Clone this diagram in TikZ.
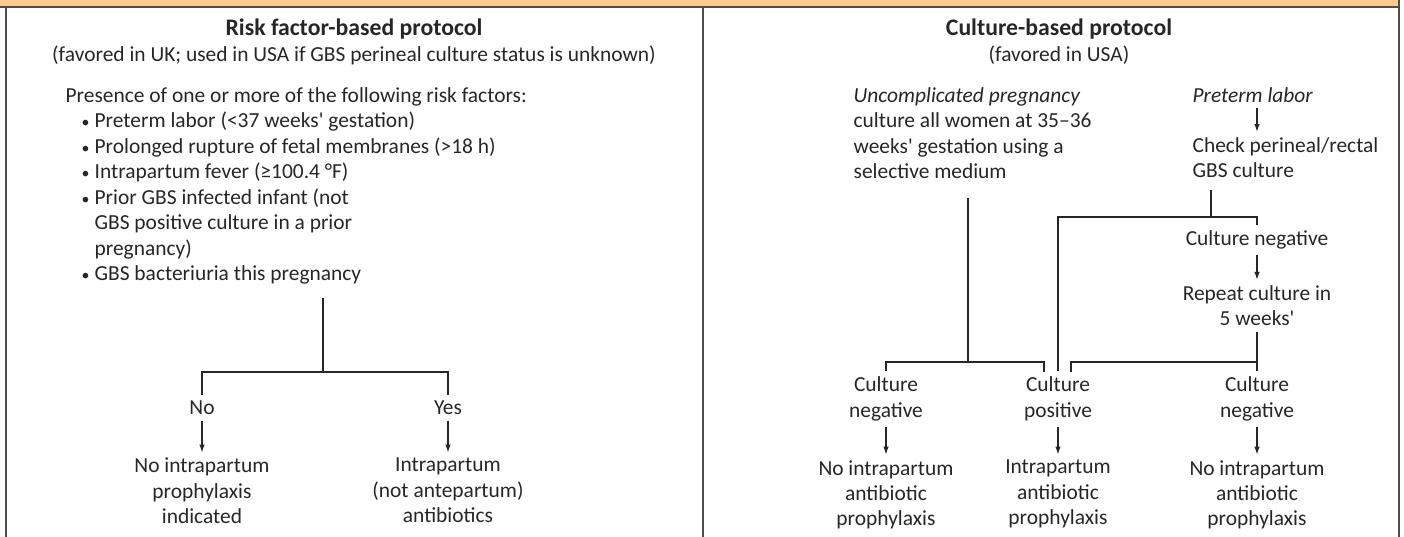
\documentclass[tikz,border=0pt]{standalone}
\usepackage{fontspec}
\setmainfont{Carlito}
\usepackage{tikz}
\usetikzlibrary{arrows.meta,positioning}
\definecolor{barorange}{HTML}{FFCA94}
\definecolor{framegray}{HTML}{4D4D4D}
\definecolor{inkgray}{HTML}{262626}

\newcommand{\riskitem}{\hspace*{3.2mm}\makebox[2.6mm][l]{\small\textbullet}}
\newcommand{\riskcont}{\hspace*{5.8mm}}
\newcommand{\apos}{\textquotesingle}

\begin{document}
\begin{tikzpicture}[
    x=0.02cm, y=-0.02cm,
    txt/.style={inner sep=3pt, text=inkgray, font=\fontsize{12.2}{14.5}\selectfont},
    heading/.style={txt, font=\fontsize{13.5}{15}\selectfont\bfseries},
    item/.style={txt, align=left, anchor=north west},
    branch/.style={txt, align=center},
    outcome/.style={txt, align=center},
    link/.style={draw=inkgray, line width=0.7pt},
    arrow/.style={link, -{Latex[length=1.6mm,width=1.1mm]}},
    frame/.style={draw=framegray, line width=1.1pt}
]
\useasboundingbox (0,0) rectangle (1404,537);

% Header bar and panel frames
\fill[barorange] (0,0) rectangle (1399,7);
\draw[frame] (0,7) -- (1399,7);
\draw[frame] (6,7) -- (6,537);
\draw[frame] (703,7) -- (703,537);
\draw[frame] (1399,0) -- (1399,537);

% Risk factor panel
\node[heading] (risktitle) at (354,29) {Risk factor-based protocol};
\node[txt] (risksub) at (354,55) {(favored in UK; used in USA if GBS perineal culture status is unknown)};
\node[item] (risks) at (60,82) {Presence of one or more of the following risk factors:\\
\riskitem Preterm labor (<37 weeks\apos{} gestation)\\
\riskitem Prolonged rupture of fetal membranes (>18 h)\\
\riskitem Intrapartum fever (≥100.4 °F)\\
\riskitem Prior GBS infected infant (not\\
\riskcont GBS positive culture in a prior\\
\riskcont pregnancy)\\
\riskitem GBS bacteriuria this pregnancy};

% Yes / no split
\coordinate (risktop) at (323,298);
\coordinate (risksplit) at (323,372);
\node[branch] (no) at (202,408) {No};
\node[branch] (yes) at (448,408) {Yes};
\node[outcome, below=0.64cm of no] (noout) {No intrapartum\\prophylaxis\\indicated};
\node[outcome, below=0.64cm of yes] (yesout) {Intrapartum\\(not antepartum)\\antibiotics};

\draw[link] (risktop) -- (risksplit);
\draw[link] (no) |- (risksplit) -| (yes);
\draw[arrow] (no) -- (noout);
\draw[arrow] (yes) -- (yesout);

% Culture panel
\node[heading] (culttitle) at (1059,29) {Culture-based protocol};
\node[txt] (cultsub) at (1059,55) {(favored in USA)};
\node[item] (uncomp) at (848,82) {\textit{Uncomplicated pregnancy}\\culture all women at 35–36\\weeks\apos{} gestation using a\\selective medium};
\node[item] (preterm) at (1187,82) {\textit{Preterm labor}};
\node[item] (check) at (1187,132) {Check perineal/rectal\\GBS culture};
\coordinate (rcol) at (1257,0);
\draw[arrow] (preterm.south -| rcol) -- (check.north -| rcol);

% Repeat culture
\coordinate (checktop) at (1211,190);
\coordinate (checksplit) at (1211,217);
\node[branch] (cneg) at (1257,240) {Culture negative};
\node[branch, below=0.5cm of cneg] (repeat) {Repeat culture in\\5 weeks\apos};
\draw[arrow] (cneg) -- (repeat);

% Culture results
\node[branch] (lneg) at (886,399) {Culture\\negative};
\node[branch] (pos) at (1058,399) {Culture\\positive};
\node[branch] (rneg) at (1257,399) {Culture\\negative};
\node[outcome, below=0.56cm of lneg] (lnegout) {No intrapartum\\antibiotic\\prophylaxis};
\node[outcome, below=0.56cm of pos] (posout) {Intrapartum\\antibiotic\\prophylaxis};
\node[outcome, below=0.56cm of rneg] (rnegout) {No intrapartum\\antibiotic\\prophylaxis};

% Links
\coordinate (uncomptop) at (968,198);
\coordinate (uncompsplit) at (968,362);
\coordinate (posleft) at (1044,372);
\coordinate (posright) at (1071,372);
\coordinate (repeatsplit) at (1257,362);
\draw[link] (uncomptop) -- (uncompsplit);
\draw[link] (lneg) |- (uncompsplit) -| (posleft);
\draw[link] (checktop) -- (checksplit);
\draw[link] (pos) |- (checksplit) -| (cneg);
\draw[link] (repeat) -- (rneg);
\draw[link] (posright) |- (repeatsplit);
\draw[arrow] (lneg) -- (lnegout);
\draw[arrow] (pos) -- (posout);
\draw[arrow] (rneg) -- (rnegout);

\end{tikzpicture}
\end{document}
